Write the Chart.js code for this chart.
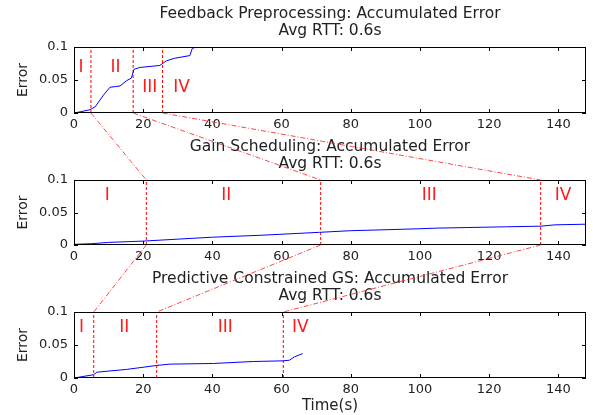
<!DOCTYPE html>
<html>
<head>
<meta charset="utf-8">
<script src="https://cdn.jsdelivr.net/npm/chart.js@4.4.0/dist/chart.umd.min.js"></script>
<style>
  html, body { margin: 0; padding: 0; background: #fff; }
  #wrap { position: relative; width: 593px; height: 415px; background: #fff; overflow: hidden; }
  #wrap canvas { position: absolute; left: 0; }
  #overlay { top: 0; pointer-events: none; z-index: 5; }
</style>
</head>
<body>
<div id="wrap">
  <canvas id="c1" width="593" height="137" style="top:0px"></canvas>
  <canvas id="c2" width="593" height="136" style="top:133px"></canvas>
  <canvas id="c3" width="593" height="150" style="top:265px"></canvas>
  <canvas id="overlay" width="593" height="415"></canvas>
</div>
<script>
// ── data ─────────────────────────────────────────────────────
const xTicksMax = 148;

// Feedback Preprocessing
const fbTime = [0, 2, 4.6, 6.1, 7.5, 8.5, 10.4, 12, 13.3, 15.2, 16.6, 17.3, 19, 24.8, 26.7, 29.1, 33.5, 34.2, 35.5, 37];
const fbErr  = [0, 0.002, 0.005, 0.0093, 0.0196, 0.027, 0.039, 0.040, 0.041, 0.049, 0.053, 0.066, 0.069, 0.072, 0.079, 0.083, 0.087, 0.098, 0.100, 0.115];
const fbBounds = [4.9, 17.1, 25.6];
const fbLabelX = [2.0, 12.0, 21.9, 31.1];
const fbLabelY = [0.069, 0.069, 0.039, 0.039];

// Gain Scheduling
const gsTime = [0, 5, 10, 20, 30, 40, 54, 71, 80, 87, 100, 105, 125, 135, 139, 148];
const gsErr  = [0.001, 0.002, 0.004, 0.006, 0.009, 0.012, 0.015, 0.0195, 0.022, 0.023, 0.025, 0.026, 0.028, 0.029, 0.031, 0.032];
const gsBounds = [20.9, 71.3, 134.9];
const gsLabelX = [9.6, 44, 102.7, 141.4];
const gsLabelY = [0.076, 0.076, 0.076, 0.076];

// Predictive Constrained GS
const pcTime = [0, 5.7, 6.6, 15.2, 23.9, 27.7, 40.3, 51.8, 60.5, 62.3, 63.7, 66.1];
const pcErr  = [0, 0.005, 0.0088, 0.013, 0.019, 0.021, 0.022, 0.025, 0.026, 0.027, 0.032, 0.037];
const pcBounds = [5.7, 23.9, 60.5];
const pcLabelX = [2.2, 14.5, 43.7, 65.4];
const pcLabelY = [0.076, 0.076, 0.076, 0.076];

const romans = ['I', 'II', 'III', 'IV'];
const yTickValues = [0, 0.05, 0.1];

// ── plugins ──────────────────────────────────────────────────
// MATLAB-like box with inward ticks on all four sides
const matlabBox = {
  id: 'matlabBox',
  afterDatasetsDraw(chart) {
    const { ctx, chartArea: a, scales: { x, y } } = chart;
    ctx.save();
    ctx.strokeStyle = '#000';
    ctx.lineWidth = 1;
    ctx.beginPath();
    x.ticks.forEach(t => {
      const px = Math.round(x.getPixelForValue(t.value)) + 0.5;
      ctx.moveTo(px, a.top); ctx.lineTo(px, a.top + 4);
      ctx.moveTo(px, a.bottom); ctx.lineTo(px, a.bottom - 4);
    });
    y.ticks.forEach(t => {
      const py = Math.round(y.getPixelForValue(t.value)) + 0.5;
      ctx.moveTo(a.left, py); ctx.lineTo(a.left + 4, py);
      ctx.moveTo(a.right, py); ctx.lineTo(a.right - 4, py);
    });
    ctx.stroke();
    ctx.strokeRect(Math.round(a.left) + 0.5, Math.round(a.top) + 0.5,
      Math.round(a.right - a.left) - 1, Math.round(a.bottom - a.top) - 1);
    ctx.restore();
  }
};

// red roman numerals for phases
const romanLabels = {
  id: 'romanLabels',
  afterDatasetsDraw(chart, args, opts) {
    const { ctx, scales: { x, y } } = chart;
    ctx.save();
    ctx.fillStyle = '#ff1a1a';
    ctx.font = '17px "DejaVu Sans", sans-serif';
    ctx.textAlign = 'center';
    ctx.textBaseline = 'middle';
    opts.texts.forEach((s, i) => {
      ctx.fillText(s, x.getPixelForValue(opts.xs[i]), y.getPixelForValue(opts.ys[i]));
    });
    ctx.restore();
  }
};

// ── chart builder ────────────────────────────────────────────
function makeChart(id, title, times, errs, bounds, labX, labY, xAxisHeight, showXTitle) {
  const datasets = [{
    data: times.map((t, i) => ({ x: t, y: errs[i] })),
    borderColor: '#0000ff',
    borderWidth: 1,
    pointRadius: 0,
    tension: 0
  }];
  bounds.forEach(b => {
    datasets.push({
      data: [{ x: b, y: 0 }, { x: b, y: 0.1 }],
      borderColor: '#ff0000',
      borderWidth: 1,
      borderDash: [3, 2],
      pointRadius: 0
    });
  });

  return new Chart(document.getElementById(id), {
    type: 'line',
    data: { datasets },
    plugins: [matlabBox, romanLabels],
    options: {
      responsive: false,
      animation: false,
      devicePixelRatio: 1,
      layout: { padding: { left: 0, right: 7, top: 0, bottom: 0 } },
      plugins: {
        legend: { display: false },
        tooltip: { enabled: false },
        title: {
          display: true,
          text: title,
          fullSize: false,
          color: '#222',
          font: { family: '"DejaVu Sans", sans-serif', size: 15.5, weight: 'normal', lineHeight: '17px' },
          padding: { top: 5, bottom: 8 }
        },
        romanLabels: { xs: labX, ys: labY, texts: romans }
      },
      scales: {
        x: {
          type: 'linear',
          min: 0,
          max: xTicksMax,
          border: { display: false },
          grid: { display: false, drawTicks: false },
          ticks: {
            stepSize: 20,
            includeBounds: false,
            maxRotation: 0,
            padding: 4,
            color: '#222',
            font: { family: '"DejaVu Sans", sans-serif', size: 13 }
          },
          title: {
            display: showXTitle,
            text: 'Time(s)',
            color: '#222',
            padding: 0,
            font: { family: '"DejaVu Sans", sans-serif', size: 15, lineHeight: 1.2 }
          },
          afterFit(scale) { scale.height = xAxisHeight; }
        },
        y: {
          type: 'linear',
          min: 0,
          max: 0.1,
          border: { display: false },
          grid: { display: false, drawTicks: false },
          afterBuildTicks(scale) { scale.ticks = yTickValues.map(v => ({ value: v })); },
          ticks: {
            padding: 6,
            color: '#222',
            font: { family: '"DejaVu Sans", sans-serif', size: 13 },
            callback: v => String(+(+v).toFixed(2))
          },
          title: {
            display: true,
            text: 'Error',
            color: '#222',
            padding: { top: 15, bottom: 0 },
            font: { family: '"DejaVu Sans", sans-serif', size: 14, lineHeight: 1.2 }
          },
          afterFit(scale) { scale.width = 74; }
        }
      }
    }
  });
}

const ch1 = makeChart('c1', ['Feedback Preprocessing: Accumulated Error', 'Avg RTT: 0.6s'],
  fbTime, fbErr, fbBounds, fbLabelX, fbLabelY, 24, false);
const ch2 = makeChart('c2', ['Gain Scheduling: Accumulated Error', 'Avg RTT: 0.6s'],
  gsTime, gsErr, gsBounds, gsLabelX, gsLabelY, 24, false);
const ch3 = makeChart('c3', ['Predictive Constrained GS: Accumulated Error', 'Avg RTT: 0.6s'],
  pcTime, pcErr, pcBounds, pcLabelX, pcLabelY, 37, true);

// ── zoom connectors between the panels ───────────────────────
function drawConnectors() {
  const ov = document.getElementById('overlay');
  const ctx = ov.getContext('2d');
  ctx.clearRect(0, 0, ov.width, ov.height);
  ctx.save();
  ctx.strokeStyle = 'rgba(255,40,40,0.85)';
  ctx.lineWidth = 1;
  ctx.setLineDash([5, 2, 1, 2]);
  const links = [
    [ch1, fbBounds, ch2, gsBounds],
    [ch2, gsBounds, ch3, pcBounds]
  ];
  links.forEach(([ca, ba, cb, bb]) => {
    const offA = ca.canvas.offsetTop, offB = cb.canvas.offsetTop;
    ba.forEach((b, i) => {
      ctx.beginPath();
      ctx.moveTo(ca.scales.x.getPixelForValue(b), offA + ca.chartArea.bottom);
      ctx.lineTo(cb.scales.x.getPixelForValue(bb[i]), offB + cb.chartArea.top);
      ctx.stroke();
    });
  });
  ctx.restore();
}
drawConnectors();
</script>
</body>
</html>
